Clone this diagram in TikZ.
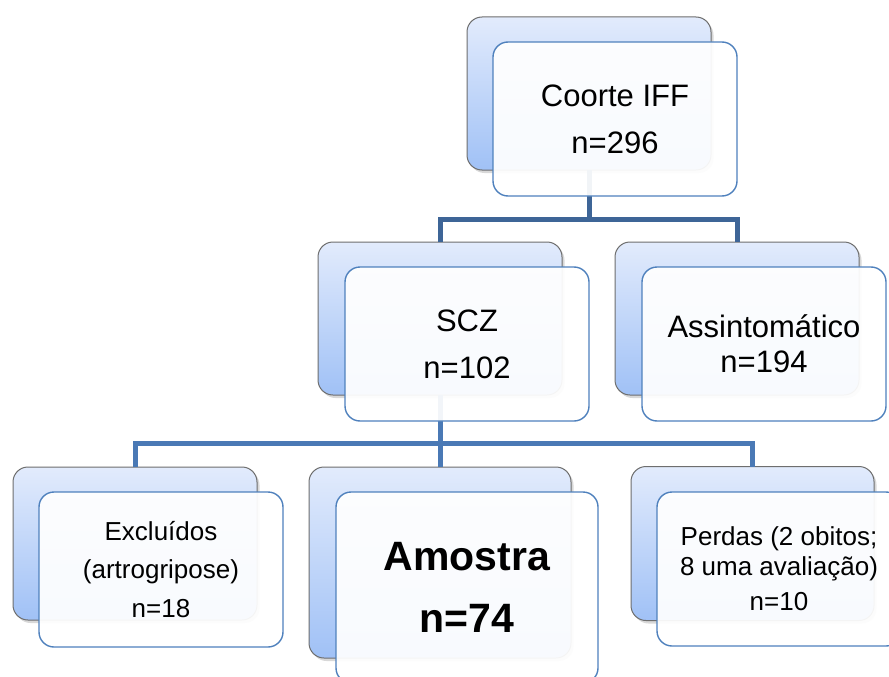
\documentclass[tikz,border=0pt]{standalone}
\usepackage{fontspec}
\setmainfont{Liberation Sans}
\usetikzlibrary{shadows}
\definecolor{backtop}{RGB}{226,235,252}
\definecolor{backbot}{RGB}{160,193,246}
\definecolor{backline}{RGB}{110,110,110}
\definecolor{frontline}{RGB}{79,129,189}
\definecolor{conntop}{RGB}{62,101,151}
\definecolor{connbot}{RGB}{74,121,181}
\tikzset{
  backbox/.style={draw=backline, line width=1pt, rounded corners=15pt,
    top color=backtop, bottom color=backbot,
    minimum width=244pt, minimum height=153pt, inner sep=0pt, outer sep=0pt,
    drop shadow={shadow xshift=2.5pt, shadow yshift=-3pt, opacity=0.3}},
  frontbox/.style={draw=frontline, line width=1.4pt, rounded corners=15pt,
    fill=white, fill opacity=0.93, text opacity=1,
    minimum width=244pt, minimum height=154pt, inner sep=0pt, outer sep=0pt,
    align=center, font=\fontsize{31}{47}\selectfont},
  connA/.style={line width=5pt, draw=conntop, line join=miter},
  connB/.style={line width=5pt, draw=connbot, line join=miter},
}
\begin{document}
\begin{tikzpicture}[x=1pt,y=-1pt]
\useasboundingbox (0,0) rectangle (889,677);
\clip (0,0) rectangle (889,677);
\fill[white] (0,0) rectangle (889,677);

% back boxes
\node[backbox] (topB) at (589,93.5) {};
\node[backbox] (r2lB) at (440,318.5) {};
\node[backbox] (r2rB) at (737,318.5) {};
\node[backbox] (r3lB) at (135,543.5) {};
\node[backbox, minimum width=262pt, minimum height=191pt] (r3mB) at (440,562.5) {};
\node[backbox, minimum width=243pt, minimum height=154pt] (r3rB) at (752.5,543.5) {};

% connectors
\coordinate (j1) at (589,219);
\coordinate (j2) at (440,443);
\draw[connA] (topB.south) -- (j1);
\draw[connA] (r2lB.north) |- (j1) -| (r2rB.north);
\draw[connB] (r2lB.south) -- (j2);
\draw[connB] (r3lB.north) |- (j2) -| (r3rB.north);
\draw[connB] (j2) -- (r3mB.north);

% front boxes
\node[frontbox] (topF) at (615,119) {Coorte IFF\\n=296};
\node[frontbox] (r2lF) at (467,344) {SCZ\\n=102};
\node[frontbox, font=\fontsize{31}{35}\selectfont] (r2rF) at (764,344) {Assintomático\\n=194};
\node[frontbox, minimum height=155pt, font=\fontsize{26}{38.5}\selectfont] (r3lF) at (161,569.5) {Excluídos\\(artrogripose)\\n=18};
\node[frontbox, minimum width=262pt, minimum height=191pt, font=\fontsize{41}{62}\selectfont\bfseries] (r3mF) at (467,587.5) {Amostra\\n=74};
\node[frontbox, font=\fontsize{26}{30}\selectfont] (r3rF) at (779,569) {Perdas (2 obitos;\\8 uma avaliação)\\[5pt]n=10};
\end{tikzpicture}
\end{document}
